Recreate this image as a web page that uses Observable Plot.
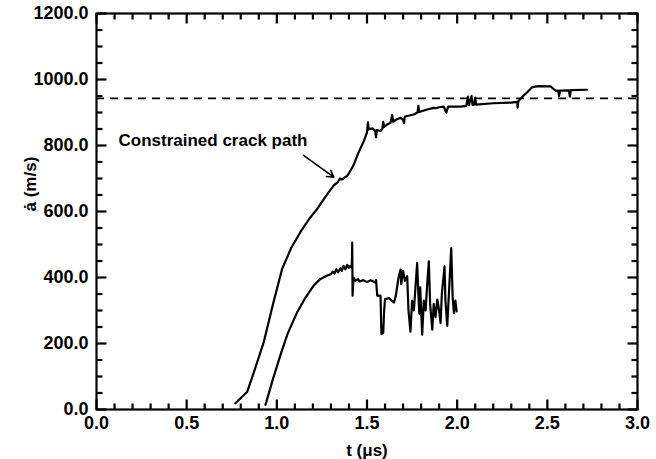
<!DOCTYPE html>
<html><head><meta charset="utf-8">
<script src="https://cdn.jsdelivr.net/npm/d3@7"></script>
<script src="https://cdn.jsdelivr.net/npm/@observablehq/plot@0.6"></script>
<style>body{margin:0;background:#fff}</style>
</head><body><div id="chart"></div>
<script>
// Constrained crack path (upper curve): time (µs), crack speed (m/s)
const upperT = [0.77,0.836,0.88,0.928,0.98,1.03,1.08,1.131,1.18,1.224,1.27,1.316,1.34,1.35,1.36,1.39,1.40,1.425,1.45,1.483,1.50,1.505,1.51,1.53,1.545,1.55,1.555,1.575,1.585,1.59,1.595,1.612,1.63,1.64,1.645,1.66,1.686,1.70,1.705,1.71,1.76,1.78,1.785,1.79,1.834,1.87,1.88,1.90,1.926,1.935,1.94,1.95,2.019,2.05,2.06,2.065,2.08,2.085,2.093,2.10,2.105,2.2,2.3,2.333,2.335,2.34,2.37,2.39,2.417,2.45,2.518,2.546,2.56,2.565,2.57,2.62,2.625,2.63,2.72];
const upperV = [19,54,125,205,322,427,490,538,578,608,645,679,690,700,697,708,716,740,775,814,840,870,849,852,845,825,847,844,850,872,856,864,868,893,872,878,884,878,868,888,894,900,920,902,909,914,913,916,918,905,900,918,918,920,948,922,950,923,923,945,924,928,930,932,915,935,952,962,977,980,979,966,966,950,966,967,948,968,969];
// Lower curve
const lowerT = [0.937,0.98,1.02,1.06,1.113,1.16,1.205,1.24,1.28,1.30,1.31,1.32,1.33,1.34,1.353,1.36,1.37,1.38,1.39,1.40,1.409,1.416,1.418,1.42,1.425,1.436,1.45,1.46,1.48,1.50,1.52,1.547,1.55,1.557,1.575,1.58,1.59,1.595,1.60,1.62,1.65,1.66,1.675,1.686,1.69,1.70,1.71,1.723,1.73,1.741,1.75,1.76,1.778,1.785,1.79,1.795,1.806,1.815,1.825,1.835,1.843,1.85,1.862,1.87,1.88,1.89,1.9,1.908,1.915,1.93,1.935,1.945,1.955,1.967,1.975,1.982,1.99,1.997];
const lowerV = [14,95,165,230,295,340,376,395,406,410,418,412,425,416,428,420,435,425,438,430,436,430,506,345,400,390,395,388,392,386,392,385,392,345,345,228,233,300,334,338,324,345,400,424,380,420,390,404,300,236,330,300,444,350,290,370,227,330,300,390,449,320,242,320,280,333,300,262,350,434,330,253,360,489,340,292,330,297];
const rayleighSpeed = [943];
const annotationLabel = ["Constrained crack path"];
const annotationAt = {t: 0.122, v: 814};
const arrowFrom = {t: 1.148, v: 770};
const arrowTo = {t: 1.316, v: 704};
const xTicks = [0, 0.5, 1.0, 1.5, 2.0, 2.5, 3.0];
const yTicks = [0, 200, 400, 600, 800, 1000, 1200];
const xMinor = d3.range(0, 31).map(i => i / 10);
const yMinor = d3.range(0, 25).map(i => i * 50);
const xLabel = "t (μs)";
const yLabel = "ȧ (m/s)";

const upper = upperT.map((t, i) => ({t, v: upperV[i]}));
const lower = lowerT.map((t, i) => ({t, v: lowerV[i]}));
const font = "Liberation Sans, Arial, Helvetica, sans-serif";
const fmt = d => d.toFixed(1);

const W = 656, H = 459, ML = 96, MR = 19, MT = 13, MB = 50;
const xDomain = [0, 3], yDomain = [0, 1200];
const pxX = (xDomain[1] - xDomain[0]) / (W - ML - MR);
const pxY = (yDomain[1] - yDomain[0]) / (H - MT - MB);
const MINOR = 6, MAJOR = 10;
const segs = [];
for (const t of xMinor) {
  const L = (xTicks.includes(t) ? MAJOR : MINOR);
  segs.push({x1: t, x2: t, y1: yDomain[0], y2: yDomain[0] + L * pxY});
  segs.push({x1: t, x2: t, y1: yDomain[1], y2: yDomain[1] - L * pxY});
}
for (const v of yMinor) {
  const L = (yTicks.includes(v) ? MAJOR : MINOR);
  segs.push({x1: xDomain[0], x2: xDomain[0] + L * pxX, y1: v, y2: v});
  segs.push({x1: xDomain[1], x2: xDomain[1] - L * pxX, y1: v, y2: v});
}

const chart = Plot.plot({
  width: W,
  height: H,
  marginLeft: ML,
  marginRight: MR,
  marginTop: MT,
  marginBottom: MB,
  style: {fontFamily: font},
  x: {domain: xDomain, label: null},
  y: {domain: yDomain, label: null},
  marks: [
    Plot.link(segs, {x1: "x1", y1: "y1", x2: "x2", y2: "y2", stroke: "black", strokeWidth: 2.2}),
    Plot.ruleY(rayleighSpeed, {stroke: "black", strokeWidth: 1.8, strokeDasharray: "8,6"}),
    Plot.line(upper, {x: "t", y: "v", stroke: "black", strokeWidth: 2.2}),
    Plot.line(lower, {x: "t", y: "v", stroke: "black", strokeWidth: 2.2}),
    Plot.text(annotationLabel, {x: () => annotationAt.t, y: () => annotationAt.v, textAnchor: "start", fontSize: 17, fontWeight: "bold", fill: "black"}),
    Plot.arrow([0], {x1: () => arrowFrom.t, y1: () => arrowFrom.v, x2: () => arrowTo.t, y2: () => arrowTo.v, stroke: "black", strokeWidth: 1.6, headLength: 7}),
    Plot.axisX(xTicks, {anchor: "bottom", tickSize: 0, tickPadding: 7, tickFormat: fmt, label: null, fontSize: 18, fontWeight: "bold", fill: "black"}),
    Plot.axisY(yTicks, {anchor: "left", tickSize: 0, tickPadding: 8, tickFormat: fmt, label: null, fontSize: 18, fontWeight: "bold", fill: "black"}),
    Plot.text([xLabel], {frameAnchor: "bottom", dy: 46, fontSize: 17, fontWeight: "bold", fill: "black"}),
    Plot.text([yLabel], {frameAnchor: "left", dx: -66, rotate: -90, fontSize: 17, fontWeight: "bold", fill: "black"}),
    Plot.frame({stroke: "black", strokeWidth: 2.2})
  ]
});
document.getElementById("chart").append(chart);
</script>
</body></html>
